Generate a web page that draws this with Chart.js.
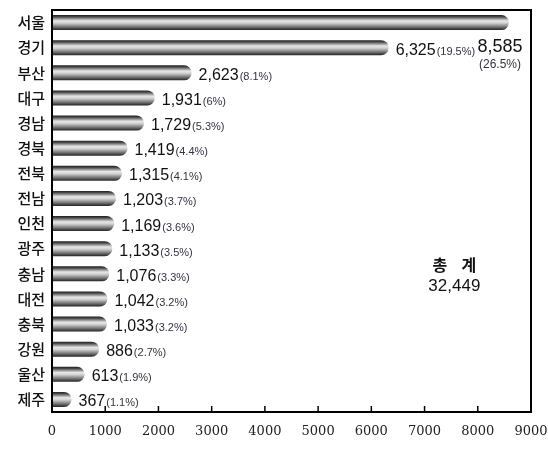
<!DOCTYPE html>
<html>
<head>
<meta charset="utf-8">
<script src="https://cdn.jsdelivr.net/npm/chart.js@4.4.1/dist/chart.umd.min.js"></script>
<style>
html,body{margin:0;padding:0;background:#fff;}
#wrap{width:548px;height:449px;}
</style>
</head>
<body>
<div id="wrap"><canvas id="c" width="548" height="449"></canvas></div>
<script>
const categories = ["서울","경기","부산","대구","경남","경북","전북","전남","인천","광주","충남","대전","충북","강원","울산","제주"];
const values = [8585,6325,2623,1931,1729,1419,1315,1203,1169,1133,1076,1042,1033,886,613,367];
const percents = ["26.5%","19.5%","8.1%","6%","5.3%","4.4%","4.1%","3.7%","3.6%","3.5%","3.3%","3.2%","3.2%","2.7%","1.9%","1.1%"];
const xTicks = [0,1000,2000,3000,4000,5000,6000,7000,8000,9000];
const totalLabel = "총    계";
const totalValue = "32,449";

const BAR_PCT = 0.6;

function barGradient(c){
  const ch = c.chart;
  const ys = ch.scales.y;
  if(!ch.chartArea || !ys) return '#888';
  const yc = ys.getPixelForValue(c.dataIndex);
  const h = ys.height / categories.length * BAR_PCT;
  const g = ch.ctx.createLinearGradient(0, yc - h/2, 0, yc + h/2);
  g.addColorStop(0, '#1e1e1e');
  g.addColorStop(0.12, '#4a4a4a');
  g.addColorStop(0.38, '#e6e6e6');
  g.addColorStop(0.52, '#d4d4d4');
  g.addColorStop(0.78, '#777');
  g.addColorStop(1, '#222');
  return g;
}

const frame = {
  id:'frame',
  afterDatasetsDraw(chart){
    const {ctx, chartArea:a, scales} = chart;
    ctx.save();
    ctx.strokeStyle = '#000';
    ctx.lineWidth = 1.5;
    scales.x.ticks.forEach(t => {
      const x = scales.x.getPixelForValue(t.value);
      ctx.beginPath();
      ctx.moveTo(x, a.bottom);
      ctx.lineTo(x, a.bottom - 6);
      ctx.stroke();
    });
    ctx.lineWidth = 2;
    ctx.strokeRect(a.left, a.top, a.right - a.left, a.bottom - a.top);

    const meta = chart.getDatasetMeta(0);
    meta.data.forEach((bar, i) => {
      const v = values[i].toLocaleString('en-US');
      if(i === 0){
        const cx = a.right - 31;
        ctx.textAlign = 'center';
        ctx.textBaseline = 'alphabetic';
        ctx.fillStyle = '#111';
        ctx.font = '18px "Liberation Sans", Arial, sans-serif';
        ctx.fillText(v, cx, bar.y + 29);
        ctx.fillStyle = '#333344';
        ctx.font = '12px "Liberation Sans", Arial, sans-serif';
        ctx.fillText('(' + percents[i] + ')', cx, bar.y + 45);
        return;
      }
      ctx.textAlign = 'left';
      ctx.textBaseline = 'alphabetic';
      ctx.fillStyle = '#111';
      ctx.font = '16px "Liberation Sans", Arial, sans-serif';
      const x0 = bar.x + 7;
      const yb = bar.y + 7;
      ctx.fillText(v, x0, yb);
      const w = ctx.measureText(v).width;
      ctx.fillStyle = '#333344';
      ctx.font = '11px "Liberation Sans", Arial, sans-serif';
      ctx.fillText('(' + percents[i] + ')', x0 + w + 1, yb);
    });

    const cx = a.left + (a.right - a.left) * 0.84;
    ctx.textAlign = 'center';
    ctx.fillStyle = '#111';
    ctx.font = 'bold 16px "Noto Sans CJK KR", sans-serif';
    ctx.textBaseline = 'middle';
    ctx.fillText(totalLabel, cx, a.top + 255);
    ctx.font = '17px "Liberation Sans", Arial, sans-serif';
    ctx.fillText(totalValue, cx, a.top + 276);
    ctx.restore();
  }
};

new Chart(document.getElementById('c'), {
  type:'bar',
  data:{
    labels: categories,
    datasets:[{
      data: values,
      backgroundColor: barGradient,
      borderWidth: 0,
      borderRadius: 8,
      borderSkipped: 'start',
      barPercentage: BAR_PCT,
      categoryPercentage: 1.0
    }]
  },
  options:{
    indexAxis:'y',
    responsive:false,
    animation:false,
    devicePixelRatio:1,
    layout:{padding:{top:10,right:17,left:0,bottom:0}},
    plugins:{legend:{display:false},tooltip:{enabled:false}},
    scales:{
      x:{
        min:0,max:9000,
        afterBuildTicks(s){ s.ticks = xTicks.map(v => ({value:v})); },
        afterFit(s){ s.height = 37; s.paddingRight = 0; s.paddingLeft = 0; },
        grid:{display:false, drawTicks:false},
        border:{display:false},
        ticks:{
          padding:12,
          color:'#222',
          font:{family:'"DejaVu Serif", serif', size:13},
          callback:(v) => String(v)
        }
      },
      y:{
        afterFit(s){ s.width = 52; s.paddingTop = 0; s.paddingBottom = 0; },
        grid:{display:false, drawTicks:false},
        border:{display:false},
        ticks:{
          padding:7,
          color:'#111',
          font:{family:'"Noto Sans CJK KR", sans-serif', size:15, weight:'500'}
        }
      }
    }
  },
  plugins:[frame]
});
</script>
</body>
</html>
